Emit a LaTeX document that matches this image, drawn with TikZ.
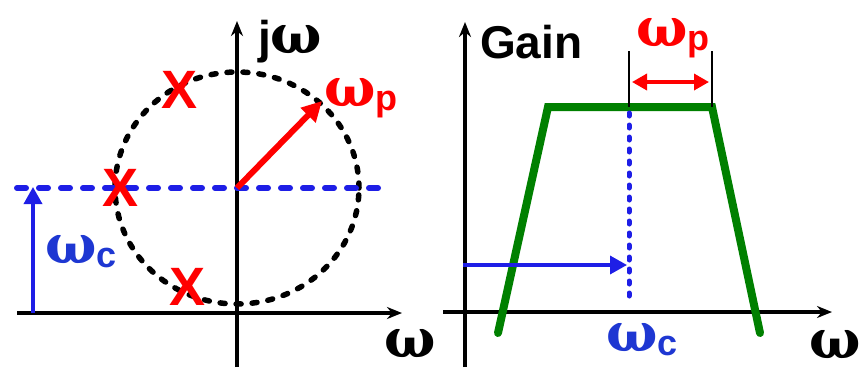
\documentclass[tikz,border=0pt]{standalone}
\usepackage{fontspec}
\setmainfont{Liberation Sans}
\newfontfamily\omfont{DejaVu Serif}
\usetikzlibrary{arrows.meta}
\definecolor{myred}{RGB}{255,0,0}
\definecolor{myblue}{RGB}{30,30,230}
\definecolor{lblblue}{RGB}{30,55,210}
\definecolor{mygreen}{RGB}{0,128,0}
\newcommand{\om}{{\omfont\bfseries\fontsize{54}{54}\selectfont ω}}
\newcommand{\subtx}[1]{\raisebox{-4pt}{\fontsize{36}{36}\selectfont\bfseries #1}}
\begin{document}
\begin{tikzpicture}[x=1pt,y=-1pt,
  axis/.style={line width=3.2pt,-{Stealth[length=15pt,width=12pt]}},
  lbl/.style={inner sep=0pt,anchor=base west,font=\bfseries},
  xmark/.style={inner sep=0pt,text=myred,font=\fontsize{54}{54}\selectfont\bfseries},
]
\useasboundingbox (0,0) rectangle (865,368);
% ---------- left panel ----------
\coordinate (o1) at (237,188);
\coordinate (ax1s) at (17,313);  \coordinate (ax1e) at (402,313);
\coordinate (ay1s) at (237,367); \coordinate (ay1e) at (237,21);
\draw[axis] (ax1s) -- (ax1e);
\draw[axis] (ay1s) -- (ay1e);
\draw[black,line width=5.5pt,line cap=round,dash pattern=on 5pt off 11pt] (o1) ellipse [x radius=122pt,y radius=116pt];
\coordinate (bl1) at (17,188); \coordinate (bl2) at (388,188);
\draw[myblue,line width=6pt,line cap=round,dash pattern=on 9pt off 13pt] (bl1) -- (bl2);
\coordinate (pa) at (322,101);
\draw[myred,line width=6pt,-{Triangle[length=20pt,width=20pt]}] (o1) -- (pa);
\coordinate (wcs) at (33,313); \coordinate (wce) at (33,187);
\draw[myblue,line width=3.5pt,-{Triangle[length=17pt,width=18pt]}] (wcs) -- (wce);
\node[xmark] (x1) at (180,90) {X};
\node[xmark] (x2) at (121,188) {X};
\node[xmark] (x3) at (188,287) {X};
\node[lbl] (jw) at (258,53) {\fontsize{46}{46}\selectfont j\om};
\node[lbl] (w1) at (384,357) {\om};
\node[lbl,text=lblblue] (wc1) at (45,263) {\om\subtx{c}};
\node[lbl,text=myred] (wp1) at (324,106) {\om\subtx{p}};
% ---------- right panel ----------
\coordinate (ax2s) at (443,312); \coordinate (ax2e) at (832,312);
\coordinate (ay2s) at (465,367); \coordinate (ay2e) at (465,22);
\draw[axis] (ax2s) -- (ax2e);
\draw[axis] (ay2s) -- (ay2e);
\coordinate (g1) at (498,333); \coordinate (g2) at (548,107);
\coordinate (g3) at (712,107); \coordinate (g4) at (760,333);
\draw[mygreen,line width=8pt,line cap=round] (g1) -- (g2) -- (g3) -- (g4);
\coordinate (d1) at (629,113); \coordinate (d2) at (629,303);
\draw[myblue,line width=5pt,line cap=round,dash pattern=on 3pt off 9pt] (d1) -- (d2);
\coordinate (ba1) at (463,265); \coordinate (ba2) at (627,265);
\draw[myblue,line width=3.5pt,-{Triangle[length=17pt,width=18pt]}] (ba1) -- (ba2);
\coordinate (t1a) at (629,51); \coordinate (t1b) at (629,107);
\coordinate (t2a) at (712,51); \coordinate (t2b) at (712,107);
\draw[line width=2.5pt] (t1a) -- (t1b);
\draw[line width=2.5pt] (t2a) -- (t2b);
\coordinate (r1) at (632,82); \coordinate (r2) at (709,82);
\draw[myred,line width=3.5pt,{Triangle[length=15pt,width=16pt]}-{Triangle[length=15pt,width=16pt]}] (r1) -- (r2);
\node[lbl] (gain) at (480,58) {\fontsize{46}{46}\selectfont Gain};
\node[lbl,text=myred] (wp2) at (636,46) {\om\subtx{p}};
\node[lbl,text=lblblue] (wc2) at (606,351) {\om\subtx{c}};
\node[lbl] (w2) at (809,358) {\om};
\end{tikzpicture}
\end{document}
